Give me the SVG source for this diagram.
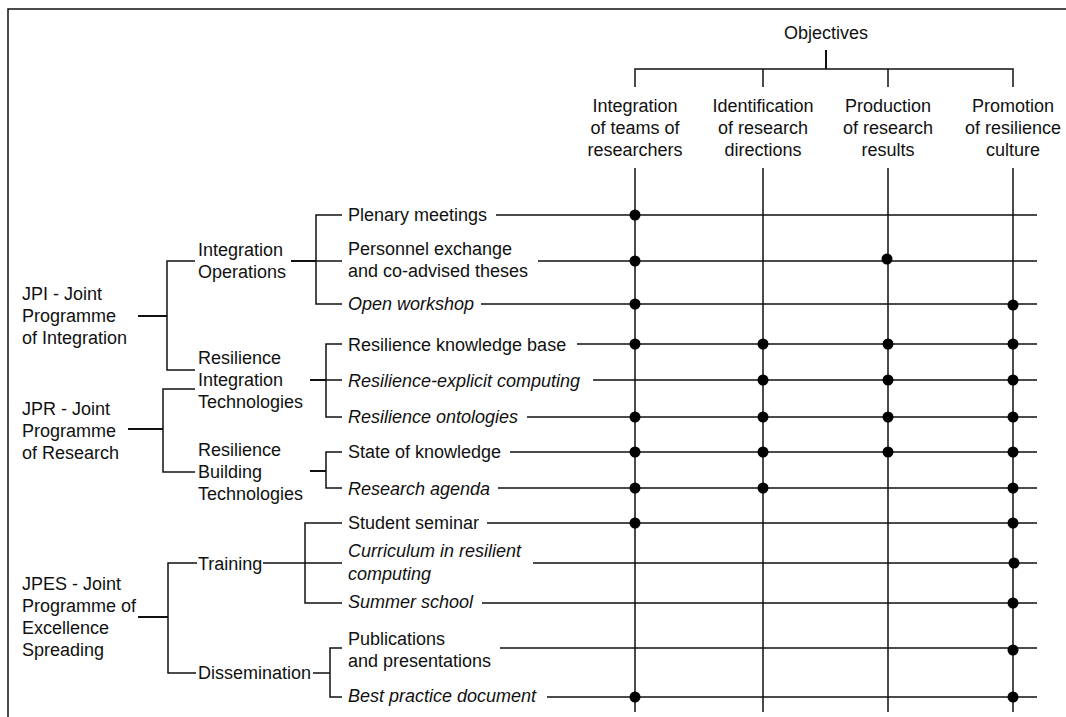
<svg xmlns="http://www.w3.org/2000/svg" width="1066" height="717" viewBox="0 0 1066 717">
  <style>
    text { font-family: "Liberation Sans", Arial, sans-serif; font-size: 18px; fill: #111; }
    .it { font-style: italic; }
    .mid { text-anchor: middle; }
    .ln { stroke: #111; stroke-width: 1.5; fill: none; }
    .stub { stroke: #111; stroke-width: 2; fill: none; }
    .dot { fill: #000; }
  </style>
  <defs>
    <circle id="d" r="5.5" class="dot"/>
  </defs>
  <rect width="1066" height="717" fill="#fff"/>
  <!-- frame -->
  <path class="ln" d="M8 717 V9 H1066"/>

  <!-- objective header -->
  <g id="objectives">
    <text class="mid" x="826" y="39">Objectives</text>
  </g>
  <g id="obj1"><text class="mid" x="635" y="112">Integration</text><text class="mid" x="635" y="134">of teams of</text><text class="mid" x="635" y="156">researchers</text></g>
  <g id="obj2"><text class="mid" x="763" y="112">Identification</text><text class="mid" x="763" y="134">of research</text><text class="mid" x="763" y="156">directions</text></g>
  <g id="obj3"><text class="mid" x="888" y="112">Production</text><text class="mid" x="888" y="134">of research</text><text class="mid" x="888" y="156">results</text></g>
  <g id="obj4"><text class="mid" x="1013" y="112">Promotion</text><text class="mid" x="1013" y="134">of resilience</text><text class="mid" x="1013" y="156">culture</text></g>

  <!-- programmes -->
  <g id="jpi"><text x="22" y="300">JPI - Joint</text><text x="22" y="322">Programme</text><text x="22" y="344">of Integration</text></g>
  <g id="jpr"><text x="22" y="415">JPR - Joint</text><text x="22" y="437">Programme</text><text x="22" y="459">of Research</text></g>
  <g id="jpes"><text x="22" y="590">JPES - Joint</text><text x="22" y="612">Programme of</text><text x="22" y="634">Excellence</text><text x="22" y="656">Spreading</text></g>

  <!-- work areas -->
  <g id="io"><text x="198" y="256">Integration</text><text x="198" y="278">Operations</text></g>
  <g id="rit"><text x="198" y="364">Resilience</text><text x="198" y="386">Integration</text><text x="198" y="408">Technologies</text></g>
  <g id="rbt"><text x="198" y="456">Resilience</text><text x="198" y="478">Building</text><text x="198" y="500">Technologies</text></g>
  <g id="training"><text x="198" y="570">Training</text></g>
  <g id="dissemination"><text x="198" y="679">Dissemination</text></g>

  <!-- activities -->
  <g id="a1"><text x="348" y="221">Plenary meetings</text></g>
  <g id="a2"><text x="348" y="255">Personnel exchange</text><text x="348" y="277">and co-advised theses</text></g>
  <g id="a3"><text class="it" x="348" y="310">Open workshop</text></g>
  <g id="a4"><text x="348" y="351">Resilience knowledge base</text></g>
  <g id="a5"><text class="it" x="348" y="387">Resilience-explicit computing</text></g>
  <g id="a6"><text class="it" x="348" y="423">Resilience ontologies</text></g>
  <g id="a7"><text x="348" y="458">State of knowledge</text></g>
  <g id="a8"><text class="it" x="348" y="495">Research agenda</text></g>
  <g id="a9"><text x="348" y="529">Student seminar</text></g>
  <g id="a10"><text class="it" x="348" y="557">Curriculum in resilient</text><text class="it" x="348" y="580">computing</text></g>
  <g id="a11"><text class="it" x="348" y="608">Summer school</text></g>
  <g id="a12"><text x="348" y="645">Publications</text><text x="348" y="667">and presentations</text></g>
  <g id="a13"><text class="it" x="348" y="702">Best practice document</text></g>

  <g id="connectors">
    <!-- objectives tree -->
    <path class="stub" d="M826 50 V69"/>
    <path class="ln" d="M635 87 V69 H1013 V87 M763 69 V87 M888 69 V87"/>
    <!-- objective columns -->
    <path class="ln" d="M635 168 V712 M763 168 V712 M888 168 V712 M1013 168 V712"/>

    <!-- programme brackets -->
    <path class="stub" d="M138 316 H167"/>
    <path class="ln" d="M195 261 H167 V370 H195"/>
    <path class="stub" d="M128 429 H163"/>
    <path class="ln" d="M195 389 H163 V472 H195"/>
    <path class="stub" d="M138 617 H168"/>
    <path class="ln" d="M197 563 H168 V673 H196"/>

    <!-- work area brackets -->
    <path class="stub" d="M291 261 H316"/>
    <path class="ln" d="M342 215 H316 V304 H342 M316 261 H342"/>
    <path class="stub" d="M310 380 H326"/>
    <path class="ln" d="M342 344 H326 V417 H342 M326 380 H342"/>
    <path class="stub" d="M310 471 H326"/>
    <path class="ln" d="M342 452 H326 V488 H342"/>
    <path class="ln" d="M263 563 H342 M342 523 H305 V603 H342"/>
    <path class="ln" d="M313 673 H330 M342 648 H330 V697 H342"/>

    <!-- activity rows -->
    <path class="ln" d="M496 215 H1037 M538 261 H1037 M481 304 H1037 M577 344 H1037 M593 380 H1037 M527 417 H1037 M510 452 H1037 M498 488 H1037 M487 523 H1037 M533 563 H1037 M482 603 H1037 M500 648 H1037 M547 697 H1037"/>
  </g>

  <!-- contributions of activities to objectives -->
  <g id="marks">
    <use href="#d" x="635" y="215"/>
    <use href="#d" x="635" y="261"/><use href="#d" x="887" y="259"/>
    <use href="#d" x="635" y="304"/><use href="#d" x="1013" y="305"/>
    <use href="#d" x="635" y="344"/><use href="#d" x="763" y="344"/><use href="#d" x="888" y="344"/><use href="#d" x="1013" y="344"/>
    <use href="#d" x="763" y="380"/><use href="#d" x="888" y="380"/><use href="#d" x="1013" y="380"/>
    <use href="#d" x="635" y="417"/><use href="#d" x="763" y="417"/><use href="#d" x="888" y="417"/><use href="#d" x="1013" y="417"/>
    <use href="#d" x="635" y="452"/><use href="#d" x="763" y="452"/><use href="#d" x="888" y="452"/><use href="#d" x="1013" y="452"/>
    <use href="#d" x="635" y="488"/><use href="#d" x="763" y="488"/><use href="#d" x="1013" y="488"/>
    <use href="#d" x="635" y="523"/><use href="#d" x="1013" y="523"/>
    <use href="#d" x="1014" y="563"/>
    <use href="#d" x="1013" y="603"/>
    <use href="#d" x="1013" y="650"/>
    <use href="#d" x="635" y="697"/><use href="#d" x="1013" y="697"/>
  </g>
</svg>
